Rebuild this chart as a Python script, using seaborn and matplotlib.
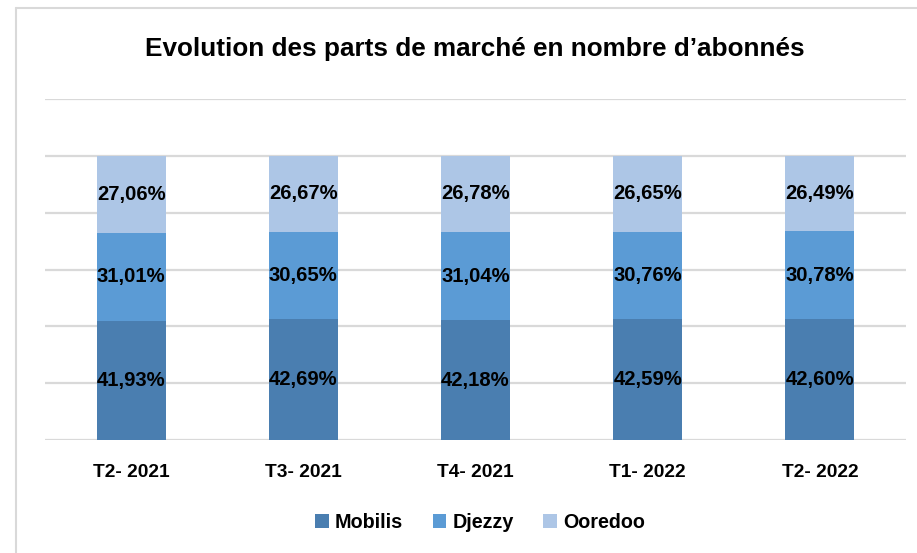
import matplotlib
matplotlib.use("Agg")
import matplotlib.pyplot as plt
import seaborn as sns
import pandas as pd
from matplotlib import font_manager
from matplotlib.lines import Line2D
from matplotlib.patches import Patch

categories = ["T2- 2021", "T3- 2021", "T4- 2021", "T1- 2022", "T2- 2022"]
mobilis = [41.93, 42.69, 42.18, 42.59, 42.60]
djezzy = [31.01, 30.65, 31.04, 30.76, 30.78]
ooredoo = [27.06, 26.67, 26.78, 26.65, 26.49]
series_names = ["Mobilis", "Djezzy", "Ooredoo"]
colors = ["#4A7EB0", "#5B9BD5", "#ADC6E6"]
title = "Evolution des parts de marché en nombre d\u2019abonnés"

sns.set_theme(style="white")
names = {f.name for f in font_manager.fontManager.ttflist}
narrow = "Liberation Sans Narrow" in names
fam = "Liberation Sans Narrow" if narrow else "Liberation Sans"
plt.rcParams['font.family'] = [fam, "DejaVu Sans"]
plt.rcParams['text.color'] = "black"
plt.rcParams['legend.labelcolor'] = "black"
k = 1.1 if narrow else 1.0

df = pd.DataFrame({"cat": categories, "Mobilis": mobilis, "Djezzy": djezzy, "Ooredoo": ooredoo})
df["c1"] = df["Mobilis"]
df["c2"] = df["Mobilis"] + df["Djezzy"]
df["c3"] = df["c2"] + df["Ooredoo"]

fig = plt.figure(figsize=(9.17, 5.53), dpi=100)
ax = fig.add_axes([45/917, 113/553, 861/917, 341/553])

for col, c in zip(["c3", "c2", "c1"], colors[::-1]):
    sns.barplot(data=df, x="cat", y=col, color=c, width=0.4, ax=ax,
                saturation=1, edgecolor="none", linewidth=0, zorder=3)

ax.set_ylim(0, 120)
ax.set_xlim(-0.5, len(categories) - 0.5)
ax.set_yticks([0, 20, 40, 60, 80, 100, 120])
ax.yaxis.grid(True, color="#D9D9D9", linewidth=1.6, zorder=0)
ax.set_axisbelow(True)
ax.tick_params(axis="y", left=False, labelleft=False)
ax.tick_params(axis="x", bottom=False, pad=11)
for s in ax.spines.values():
    s.set_visible(False)
ax.set_xlabel("")
ax.set_ylabel("")
for lab in ax.get_xticklabels():
    lab.set_fontsize(13.8 * k)
    lab.set_fontweight("bold")
    lab.set_color("black")

for i in range(len(categories)):
    bottoms = [0, mobilis[i], mobilis[i] + djezzy[i]]
    for b, v in zip(bottoms, [mobilis[i], djezzy[i], ooredoo[i]]):
        ax.text(i, b + v / 2, f"{v:.2f}%".replace(".", ","), ha="center", va="center",
                fontsize=14.6 * k, fontweight="bold", color="black", zorder=5)

fig.text(475/917, 1 - 49/553, title, ha="center", va="center",
         fontsize=18.8 * k, fontweight="bold", color="black")

handles = [Patch(facecolor=c, edgecolor="none") for c in colors]
fig.legend(handles, series_names, loc="center", bbox_to_anchor=(480/917, 1 - 522/553),
           ncol=3, frameon=False, prop={"size": 14.2 * k, "weight": "bold"},
           handlelength=0.7, handleheight=0.7, handletextpad=0.3, columnspacing=1.5,
           labelcolor="black")

# outer chart frame
fig.add_artist(Line2D([16/917, 1], [1 - 8/553, 1 - 8/553], color="#D9D9D9", lw=1.5, transform=fig.transFigure))
fig.add_artist(Line2D([16/917, 16/917], [0, 1 - 8/553], color="#D9D9D9", lw=1.5, transform=fig.transFigure))

fig.savefig("out.png", dpi=100, facecolor="white")
